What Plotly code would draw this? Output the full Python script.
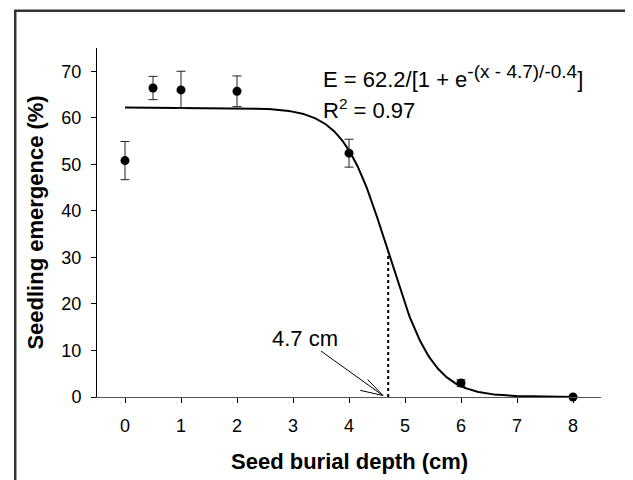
import numpy as np
import plotly.graph_objects as go

# Observed data
depth = [0, 0.5, 1, 2, 4, 6, 8]
emergence = [50.8, 66.4, 66.0, 65.7, 52.4, 3.0, 0.0]
err = [4.1, 2.5, 4.0, 3.3, 3.0, 0.7, 0.0]

# Fitted sigmoid parameters (from the equation on the chart)
E_max = 62.2
x50 = 4.7
b = -0.4

x_ticks = [0, 1, 2, 3, 4, 5, 6, 7, 8]
y_ticks = [0, 10, 20, 30, 40, 50, 60, 70]

curve_x = np.linspace(0, 8, 400)
curve_y = E_max / (1 + np.exp(-(curve_x - x50) / b))
y_at_x50 = E_max / (1 + np.exp(-(x50 - x50) / b))

FONT = "Arial, 'Liberation Sans', Helvetica, sans-serif"

# page offset (default body margin of the html page)
OFF = 8
W, H = 633, 480
# plot area in screen pixels: left 97, right 600.6, top 47.7, bottom 397
L = 97 - OFF
T = 47.7 - OFF
R = W - (600.6 - OFF)
B = H - (397 - OFF)
pw, ph = W - L - R, H - T - B


def px(xs):
    return (xs - OFF - L) / pw


def py(ys):
    return (H - B - (ys - OFF)) / ph


fig = go.Figure()

fig.add_trace(go.Scatter(
    x=curve_x, y=curve_y, mode="lines",
    line=dict(color="black", width=2),
    hoverinfo="skip", showlegend=False,
))

fig.add_trace(go.Scatter(
    x=depth, y=emergence, mode="markers",
    marker=dict(color="black", size=9, symbol="circle"),
    error_y=dict(type="data", array=err, visible=True,
                 color="#222222", thickness=1, width=4.5),
    cliponaxis=False, showlegend=False,
))

# dotted line at x50
fig.add_shape(type="line", x0=x50, x1=x50, y0=0, y1=y_at_x50,
              xref="x", yref="y",
              line=dict(color="black", width=2, dash="dot"))

# outer frame (right and bottom edges fall outside the picture)
fig.add_shape(type="rect", xref="paper", yref="paper",
              x0=px(15.3), x1=px(720), y0=py(580), y1=py(10.5),
              line=dict(color="#333333", width=2.5), layer="above")

tip_x, tip_y = 4.606, 0.32
arrow_common = dict(x=tip_x, y=tip_y, xref="x", yref="y", text="",
                    showarrow=True, arrowhead=0, arrowwidth=1,
                    arrowcolor="black", standoff=0, startstandoff=0)

annotations = [
    dict(text="E = 62.2/[1 + e<sup><span style='font-size:19px'>-(x - 4.7)/-0.4</span></sup>]",
         x=px(321), y=py(76.5), xref="paper", yref="paper",
         xanchor="left", yanchor="middle", showarrow=False,
         font=dict(size=22, color="black", family=FONT)),
    dict(text="R<sup>2</sup> = 0.97",
         x=px(321), y=py(108.5), xref="paper", yref="paper",
         xanchor="left", yanchor="middle", showarrow=False,
         font=dict(size=22, color="black", family=FONT)),
    dict(text="4.7 cm",
         x=px(305), y=py(338), xref="paper", yref="paper",
         xanchor="center", yanchor="middle", showarrow=False,
         font=dict(size=22, color="black", family=FONT)),
    dict(ax=-63.4, ay=-45.5, **arrow_common),
    dict(ax=-16.7, ay=-17.5, **arrow_common),
    dict(ax=-24.2, ay=-5.5, **arrow_common),
    dict(text="<b>Seedling emergence (%)</b>",
         x=px(35.5), y=py(222), xref="paper", yref="paper",
         xanchor="center", yanchor="middle", textangle=-90, showarrow=False,
         font=dict(size=22, color="black", family=FONT)),
    dict(text="<b>Seed burial depth (cm)</b>",
         x=px(349), y=py(461.5), xref="paper", yref="paper",
         xanchor="center", yanchor="middle", showarrow=False,
         font=dict(size=22, color="black", family=FONT)),
]

fig.update_layout(
    width=W, height=H,
    margin=dict(l=L, r=R, t=T, b=B, pad=0),
    paper_bgcolor="white", plot_bgcolor="white",
    font=dict(family=FONT, color="black", size=18),
    annotations=annotations,
    showlegend=False,
)

fig.update_xaxes(
    range=[-0.5, 8.5], tickvals=x_ticks, ticktext=[str(v) for v in x_ticks],
    showgrid=False, zeroline=False, showline=True, linecolor="#555555", linewidth=1,
    ticks="outside", ticklen=5, tickwidth=1, tickcolor="black",
    tickfont=dict(size=18, family=FONT, color="black"), ticklabelstandoff=7,
)
fig.update_yaxes(
    range=[0, 75], tickvals=y_ticks, ticktext=[str(v) for v in y_ticks],
    showgrid=False, zeroline=False, showline=True, linecolor="black", linewidth=1,
    ticks="outside", ticklen=5, tickwidth=1, tickcolor="black",
    tickfont=dict(size=18, family=FONT, color="black"), ticklabelstandoff=6,
)

fig.write_html("out.html")
